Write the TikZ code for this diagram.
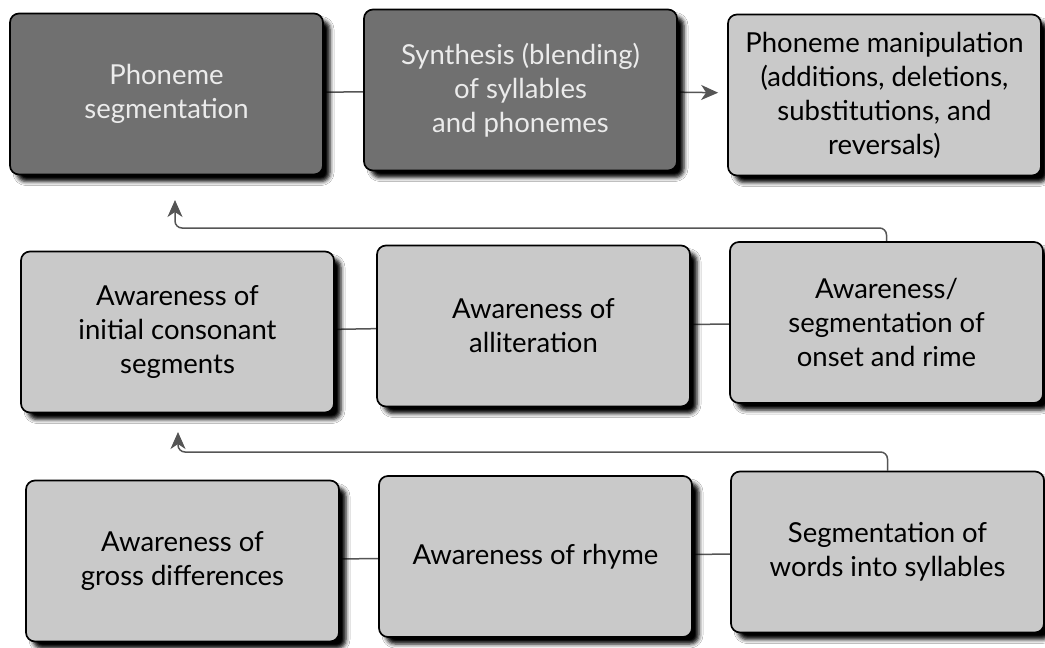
\documentclass[tikz,border=0pt]{standalone}
\usepackage{fontspec}
\setmainfont{Lato}
\usetikzlibrary{shadows.blur,arrows.meta,backgrounds}

\definecolor{darkfill}{RGB}{112,112,112}
\definecolor{lightfill}{RGB}{201,201,201}
\definecolor{linkgray}{RGB}{85,85,85}

\begin{document}
\begin{tikzpicture}[x=1pt, y=-1pt,
    box/.style={draw=black, line width=1.7pt, rounded corners=9pt,
        minimum width=313pt, minimum height=161pt, inner sep=0pt,
        align=center, font=\fontsize{27.5}{34}\selectfont,
        blur shadow={shadow xshift=7pt, shadow yshift=-7pt,
            shadow blur radius=4pt, shadow opacity=100}},
    darkbox/.style={box, fill=darkfill, text=white!92!black},
    lightbox/.style={box, fill=lightfill},
    link/.style={draw=linkgray, line width=1.5pt},
    tip/.style={-{Stealth[length=17pt, width=15pt, inset=5pt]}},
    flow/.style={link, tip, rounded corners=7pt}]

    \useasboundingbox (0,0) rectangle (1045,648);

    % top row
    \node[darkbox]  (A) at (166.5,94)  {Phoneme\\segmentation};
    \node[darkbox]  (B) at (520.5,90)  {Synthesis (blending)\\of syllables\\and phonemes};
    \node[lightbox] (C) at (884.5,95)  {Phoneme manipulation\\(additions, deletions,\\substitutions, and\\reversals)};

    % middle row
    \node[lightbox] (D) at (177.5,332) {Awareness of\\initial consonant\\segments};
    \node[lightbox] (E) at (533.5,326) {Awareness of\\alliteration};
    \node[lightbox] (F) at (886.5,322.5) {Awareness/\\segmentation of\\onset and rime};

    % bottom row
    \node[lightbox] (G) at (182.5,561) {Awareness of\\gross differences};
    \node[lightbox] (H) at (535.5,556.5) {Awareness of rhyme};
    \node[lightbox] (I) at (887.5,552) {Segmentation of\\words into syllables};

    \coordinate (bendA) at (175,228);
    \coordinate (tipA)  at (175,200);
    \coordinate (bendD) at (178,452);
    \coordinate (tipD)  at (178,432);

    \begin{scope}[on background layer]
        \fill[white] (0,0) rectangle (1045,648);

        \draw[link] (A) -- (B);
        \draw[link, tip, shorten >=9pt] (B) -- (C);
        \draw[link] (D) -- (E);
        \draw[link] (E) -- (F);
        \draw[link] (G) -- (H);
        \draw[link] (H) -- (I);

        \draw[flow] (F.north) |- (bendA) -- (tipA);
        \draw[flow] (I.north) |- (bendD) -- (tipD);
    \end{scope}
\end{tikzpicture}
\end{document}
